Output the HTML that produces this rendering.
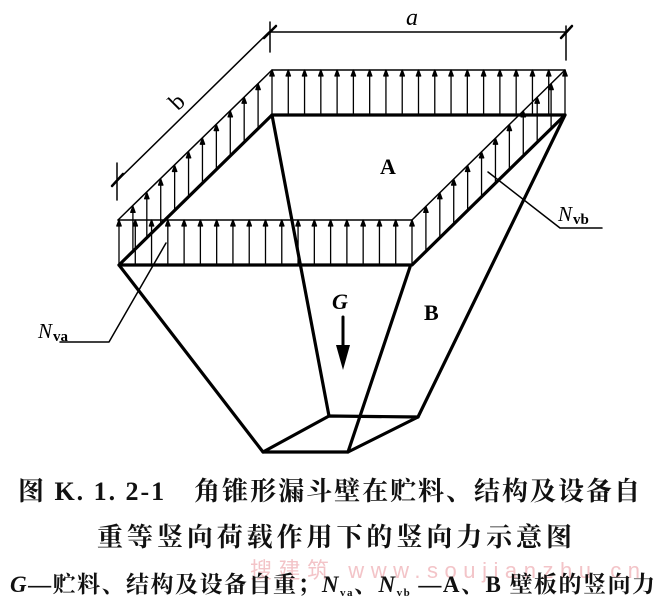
<!DOCTYPE html>
<html><head><meta charset="utf-8"><style>
html,body{margin:0;padding:0;background:#fff;}
body{width:660px;height:600px;position:relative;overflow:hidden;}
</style></head><body>
<svg width="660" height="600" style="position:absolute;left:0;top:0" xmlns="http://www.w3.org/2000/svg">
<g stroke="#000" fill="none" stroke-linecap="round" stroke-linejoin="round">
<line x1="270" y1="32" x2="567" y2="32" stroke-width="1.5"/>
<line x1="270" y1="22" x2="270" y2="52" stroke-width="1.5"/>
<line x1="566" y1="26" x2="566" y2="60" stroke-width="1.5"/>
<line x1="118" y1="180" x2="269" y2="32" stroke-width="1.5"/>
<line x1="117" y1="163" x2="117" y2="200" stroke-width="1.5"/>
<line x1="264" y1="38" x2="276" y2="26" stroke-width="2.5"/>
<line x1="561" y1="38" x2="572" y2="26" stroke-width="2.5"/>
<line x1="112" y1="186" x2="123" y2="174" stroke-width="2.5"/>
<line x1="118" y1="220" x2="272" y2="70" stroke-width="1.5"/>
<line x1="272" y1="70" x2="565" y2="70" stroke-width="1.5"/>
<line x1="412" y1="220" x2="565" y2="70" stroke-width="1.5"/>
<line x1="118" y1="220" x2="412" y2="220" stroke-width="1.5"/>
<g id="arr" stroke-width="1.3"></g>
<polygon points="272,115 565,115 412,265 119,265" stroke-width="3.2"/>
<line x1="119" y1="265" x2="263" y2="452" stroke-width="3.2"/>
<line x1="272" y1="115" x2="329" y2="416" stroke-width="3.2"/>
<line x1="410" y1="267" x2="348" y2="452" stroke-width="3.2"/>
<line x1="565" y1="115" x2="418" y2="417" stroke-width="3.2"/>
<polygon points="263,452 348,452 418,417 329,416" stroke-width="3.2"/>
<polyline points="166,243 109,342 60,342" stroke-width="1.5"/>
<polyline points="488,172 560,228 602,228" stroke-width="1.5"/>
<line x1="343" y1="317" x2="343" y2="350" stroke-width="3"/>
</g>
<polygon points="336,345 350,345 343,370" fill="#000"/>
<g font-family="Liberation Serif, serif" fill="#000">
<text x="406" y="25" font-size="24" font-style="italic">a</text>
<text x="170" y="108" font-size="24" transform="rotate(-45 178 100)">b</text>
<text x="380" y="174" font-size="22" font-weight="bold">A</text>
<text x="424" y="320" font-size="22" font-weight="bold">B</text>
<text x="332" y="309" font-size="22" font-style="italic" font-weight="bold">G</text>
<text x="38" y="338" font-size="21" font-style="italic">N</text><text x="53" y="341" font-size="15" font-weight="bold">va</text>
<text x="558" y="221" font-size="21" font-style="italic">N</text><text x="573" y="224" font-size="15" font-weight="bold">vb</text>
</g>
<g font-family="Liberation Serif, Noto Serif CJK SC, serif" font-weight="bold" fill="#111">
<text x="18" y="500" font-size="26" textLength="622" lengthAdjust="spacing">图 K. 1. 2-1　角锥形漏斗壁在贮料、结构及设备自</text>
<text x="97" y="546" font-size="26" textLength="475" lengthAdjust="spacing">重等竖向荷载作用下的竖向力示意图</text>
<text x="250" y="578" font-size="22" fill="#f3c4c8" font-weight="normal" font-family="Liberation Sans, Noto Sans CJK SC, sans-serif" textLength="390" lengthAdjust="spacing">搜建筑 www.soujianzhu.cn</text>
<text x="10" y="592" font-size="23" textLength="645" lengthAdjust="spacing"><tspan font-style="italic">G</tspan>—贮料、结构及设备自重；<tspan font-style="italic">N</tspan><tspan font-size="11" dy="4">va</tspan><tspan dy="-4">、</tspan><tspan font-style="italic">N</tspan><tspan font-size="11" dy="4">vb</tspan><tspan dy="-4"> —A、B 壁板的竖向力</tspan></text>
</g>
</svg>
<script>
var g=document.getElementById('arr'),h='';
function a(x,y0,y1){h+='<line x1="'+x+'" y1="'+y0+'" x2="'+x+'" y2="'+(y1+5)+'"/><polygon points="'+(x-2.2)+','+(y1+6)+' '+(x+2.2)+','+(y1+6)+' '+x+','+y1+'" fill="#000"/>';}
var i,x,y;
for(i=0;i<=18;i++){x=272+i*293/18;a(x,115,70);}
for(i=0;i<=18;i++){x=119+i*293/18;a(x,265,220);}
for(i=1;i<11;i++){x=119+i*153/11;y=265-(x-119)*150/153;a(x,y,y-45);}
for(i=1;i<11;i++){x=412+i*153/11;y=265-(x-412)*150/153;a(x,y,y-45);}
g.innerHTML=h;
</script>
</body></html>
